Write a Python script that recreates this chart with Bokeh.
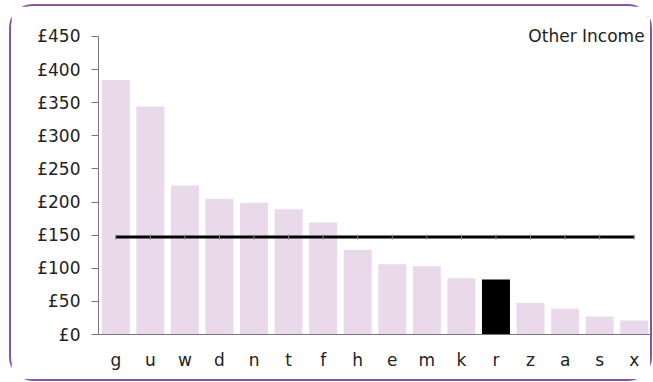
import math
from bokeh.plotting import figure
from bokeh.models import FactorRange, Range1d, FixedTicker, PrintfTickFormatter, Label
from bokeh.embed import file_html
from bokeh.resources import INLINE

categories = ["g", "u", "w", "d", "n", "t", "f", "h", "e", "m", "k", "r", "z", "a", "s", "x"]
values = [384, 344, 225, 205, 199, 189, 169, 128, 106, 103, 85, 83, 48, 39, 27, 21]
highlight = "r"
average = 147
y_ticks = [0, 50, 100, 150, 200, 250, 300, 350, 400, 450]
title_text = "Other Income"

bar_colors = ["#000000" if c == highlight else "#ead9eb" for c in categories]
avg_line = [average] * len(categories)

FONT = "DejaVu Sans"

p = figure(
    x_range=FactorRange(*categories, range_padding=0),
    y_range=Range1d(0, 480),
    width=643, height=377,
    output_backend="svg", toolbar_location=None,
    min_border_left=87, min_border_right=3, min_border_top=10, min_border_bottom=49,
    styles={"margin-top": "4px", "margin-left": "9px",
            "border": "2px solid #8457a6", "border-radius": "24px"},
)
p.outline_line_color = None
p.xgrid.grid_line_color = None
p.ygrid.grid_line_color = None

p.vbar(x=categories, top=values, width=0.81, fill_color=bar_colors, line_color=None)
p.line(x=categories, y=avg_line, line_color="#000000", line_width=3)
p.scatter(x=categories, y=avg_line, marker="dash", angle=math.pi / 2, size=5,
          line_color="#888888", line_width=1)

p.yaxis.ticker = FixedTicker(ticks=y_ticks)
p.yaxis.bounds = (0, 450)
p.yaxis.formatter = PrintfTickFormatter(format="£%d")
p.yaxis.major_label_text_font = FONT
p.yaxis.major_label_text_font_size = "17px"
p.yaxis.major_label_text_color = "#222222"
p.yaxis.axis_line_color = "#777777"
p.yaxis.major_tick_line_color = "#777777"
p.yaxis.major_tick_in = 0
p.yaxis.major_tick_out = 7
p.yaxis.minor_tick_line_color = None
p.yaxis.major_label_standoff = 11

p.xaxis.major_label_text_font = FONT
p.xaxis.major_label_text_font_size = "17px"
p.xaxis.major_label_text_color = "#222222"
p.xaxis.axis_line_color = "#777777"
p.xaxis.major_tick_line_color = None
p.xaxis.minor_tick_line_color = None
p.xaxis.major_label_standoff = 9

p.add_layout(Label(x=15.8, y=451, text=title_text, text_align="right",
                   text_baseline="alphabetic", text_font=FONT,
                   text_font_size="17px", text_color="#222222"))

open("out.html", "w").write(file_html(p, INLINE))
